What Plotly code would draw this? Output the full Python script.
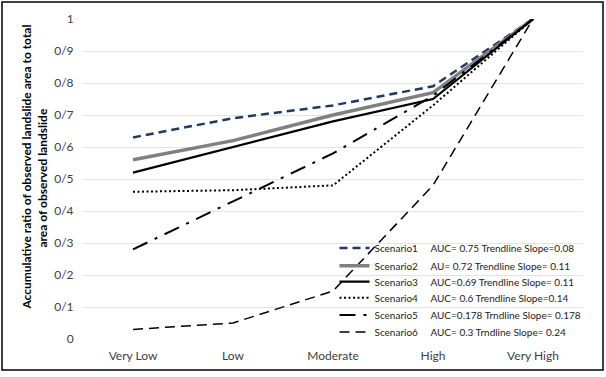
import plotly.graph_objects as go

categories = ["Very Low", "Low", "Moderate", "High", "Very High"]
scenario1 = [0.63, 0.69, 0.73, 0.79, 1.0]
scenario2 = [0.56, 0.62, 0.70, 0.77, 1.0]
scenario3 = [0.52, 0.60, 0.68, 0.75, 1.0]
scenario4 = [0.46, 0.465, 0.48, 0.73, 1.0]
scenario5 = [0.28, 0.43, 0.58, 0.76, 1.0]
scenario6 = [0.03, 0.05, 0.15, 0.48, 1.0]
names = ["Scenario1", "Scenario2", "Scenario3", "Scenario4", "Scenario5", "Scenario6"]
notes = ["AUC= 0.75 Trendline Slope=0.08",
         "AU= 0.72 Trendline Slope= 0.11",
         "AUC=0.69 Trendline Slope= 0.11",
         "AUC= 0.6 Trendline Slope=0.14",
         "AUC=0.178 Trndline Slope= 0.178",
         "AUC= 0.3 Trndline Slope= 0.24"]
tick_vals = [0, 0.1, 0.2, 0.3, 0.4, 0.5, 0.6, 0.7, 0.8, 0.9, 1.0]
tick_text = ["0", "0/1", "0/2", "0/3", "0/4", "0/5", "0/6", "0/7", "0/8", "0/9", "1"]
title_lines = ["Accumulative ratio of observed landslide area to total",
               "area of observed landslide"]

series = [scenario1, scenario2, scenario3, scenario4, scenario5, scenario6]
styles = [
    dict(color="#1f3864", width=2.5, dash="8px,5px"),
    dict(color="#808080", width=3.5, dash="solid"),
    dict(color="#000000", width=2.2, dash="solid"),
    dict(color="#000000", width=2, dash="2px,2.5px"),
    dict(color="#000000", width=2, dash="16px,8px,3px,8px"),
    dict(color="#000000", width=1.5, dash="10px,6px"),
]
# legend row positions (paper fraction of plot height)
legend_rows = [0.284, 0.229, 0.179, 0.129, 0.075, 0.022]
# y-axis title line placement: (x paper, bottom y paper)
title_pos = [(-0.112, 0.084), (-0.080, 0.278)]

font_family = "Lato, Carlito, Calibri, sans-serif"
fig = go.Figure()
legend_layouts = {}
for i, (nm, note, vals, st) in enumerate(zip(names, notes, series, styles)):
    key = "legend" if i == 0 else "legend%d" % (i + 1)
    label = nm + "\u00a0\u00a0\u00a0\u00a0\u00a0" + note
    fig.add_trace(go.Scatter(x=categories, y=vals, mode="lines", name=label,
                             line=st, legend=key))
    legend_layouts[key] = dict(x=0.503, y=legend_rows[i], xanchor="left", yanchor="middle",
                               bgcolor="rgba(0,0,0,0)", borderwidth=0,
                               font=dict(size=10, color="#222222", family=font_family),
                               itemwidth=30)

annotations = []
for line, (tx, ty) in zip(title_lines, title_pos):
    annotations.append(dict(text=line, textangle=-90,
                            xref="paper", yref="paper", x=tx, y=ty,
                            xanchor="center", yanchor="bottom", showarrow=False,
                            font=dict(size=12, color="#000000", weight="bold")))

fig.update_layout(
    width=606, height=377,
    margin=dict(l=83, r=23, t=19, b=38),
    paper_bgcolor="white", plot_bgcolor="white",
    font=dict(family=font_family, size=12, color="#404040"),
    showlegend=True,
    xaxis=dict(type="category", range=[-0.5, 4.5], showgrid=False, showline=False,
               ticks="outside", ticklen=6, tickcolor="rgba(0,0,0,0)", zeroline=False,
               tickfont=dict(size=12, color="#404040")),
    yaxis=dict(range=[0, 1], tickvals=tick_vals, ticktext=tick_text,
               showgrid=True, gridcolor="#e3e3e3", gridwidth=1, zeroline=False,
               showline=False, ticks="outside", ticklen=6, tickcolor="rgba(0,0,0,0)",
               tickfont=dict(size=12, color="#404040")),
    annotations=annotations,
    shapes=[dict(type="rect", xref="paper", yref="paper", layer="above",
                 x0=-0.162, x1=1.04, y0=-0.097, y1=1.053,
                 line=dict(color="#000000", width=1.5), fillcolor="rgba(0,0,0,0)")],
)
fig.update_layout(**legend_layouts)
fig.write_html("out.html", config={"displayModeBar": False},
               post_script="document.body.style.margin='0';document.body.style.padding='0';")
